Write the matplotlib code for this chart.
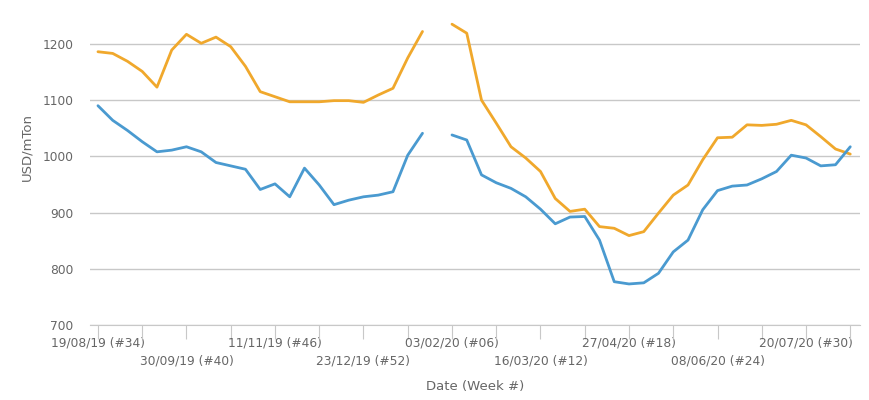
import numpy as np
import matplotlib
matplotlib.use("Agg")
import matplotlib.pyplot as plt

plt.rcParams['font.family'] = ['DejaVu Sans']

# weekly prices, 19/08/19 (#34) .. 10/08/20 (#33); week 27/01/20 missing
orange = [1186, 1183, 1169, 1151, 1123, 1189, 1217, 1201, 1212, 1195,
          1160, 1115, 1106, 1097, 1097, 1097, 1099, 1099, 1096, 1109,
          1121, 1175, 1222, np.nan, 1235, 1219, 1100, 1059, 1017, 997,
          973, 925, 902, 906, 875, 872, 859, 866, 899, 931,
          949, 994, 1033, 1034, 1056, 1055, 1057, 1064, 1056, 1035,
          1013, 1004]
blue = [1090, 1064, 1046, 1026, 1008, 1011, 1017, 1008, 989, 983,
        977, 941, 951, 928, 979, 949, 914, 922, 928, 931,
        937, 1002, 1041, np.nan, 1038, 1029, 967, 953, 943, 928,
        906, 880, 892, 893, 851, 777, 773, 775, 792, 830,
        851, 905, 939, 947, 949, 960, 973, 1002, 997, 983,
        985, 1017]

tick_labels = ['19/08/19 (#34)', '30/09/19 (#40)', '11/11/19 (#46)',
               '23/12/19 (#52)', '03/02/20 (#06)', '16/03/20 (#12)',
               '27/04/20 (#18)', '08/06/20 (#24)', '20/07/20 (#30)']

weeks = np.arange(len(orange))

fig = plt.figure(figsize=(8.7, 4), dpi=100)
ax = fig.add_axes([90 / 870, 75 / 400, 770 / 870, 307 / 400])

ax.plot(weeks, orange, color='#f0a82c', lw=2,
        solid_capstyle='round', solid_joinstyle='round')
ax.plot(weeks, blue, color='#4a9ad0', lw=2,
        solid_capstyle='round', solid_joinstyle='round')

ax.set_xlim(-0.54, 51.66)
ax.set_ylim(700, 1246)
ax.set_yticks(range(700, 1201, 100))
ax.yaxis.grid(True, color='#c8c8c8', lw=1)
ax.set_axisbelow(True)

# ticks every 3 weeks, labels every 6 weeks on two staggered rows
ax.set_xticks(np.arange(0, 52, 3))
labels = []
for k, t in enumerate(np.arange(0, 52, 3)):
    if k % 2 == 0 and k // 2 < len(tick_labels):
        j = k // 2
        labels.append(tick_labels[j] if j % 2 == 0 else '\n' + tick_labels[j])
    else:
        labels.append('')
ax.set_xticklabels(labels, linespacing=1.5)

for s in ['top', 'right', 'left']:
    ax.spines[s].set_visible(False)
ax.spines['bottom'].set_color('#c8c8c8')
ax.tick_params(axis='x', length=10, color='#c8c8c8', labelcolor='#666666',
               labelsize=8.8, pad=-2)
ax.tick_params(axis='y', length=0, labelcolor='#666666', labelsize=8.8, pad=12)

ax.set_xlabel('Date (Week #)', color='#666666', fontsize=9.5)
ax.xaxis.set_label_coords(0.5, -0.18)
ax.set_ylabel('USD/mTon', color='#666666', fontsize=9.5)
ax.yaxis.set_label_coords(-0.074, 0.58)

fig.savefig('out.png', dpi=100)
